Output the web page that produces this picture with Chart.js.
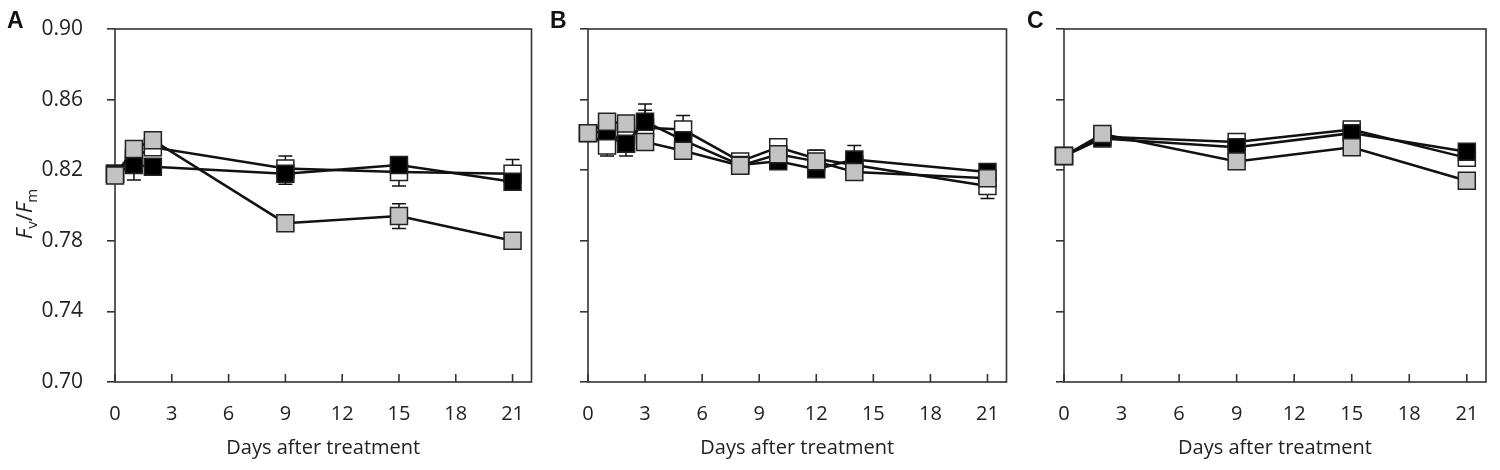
<!DOCTYPE html>
<html>
<head>
<meta charset="utf-8">
<script src="https://cdn.jsdelivr.net/npm/chart.js@4.4.1/dist/chart.umd.min.js"></script>
<style>
  body { margin: 0; background: #fff; width: 1500px; height: 470px; position: relative; overflow: hidden; }
  canvas { position: absolute; top: 0; }
</style>
</head>
<body>
<canvas id="chartA" width="545" height="470" style="left:0px"></canvas>
<canvas id="chartB" width="475" height="470" style="left:545px"></canvas>
<canvas id="chartC" width="480" height="470" style="left:1020px"></canvas>
<script>
// ---- data (Fv/Fm vs days after treatment) ----
const yTicks = [0.70, 0.74, 0.78, 0.82, 0.86, 0.90];
const xTicks = [0, 3, 6, 9, 12, 15, 18, 21];

// panel A
const daysA = [0, 1, 2, 9, 15, 21];
const openA = [0.818, 0.827, 0.833, 0.821, 0.819, 0.818];
const filledA = [0.818, 0.823, 0.822, 0.818, 0.823, 0.8135];
const grayA = [0.817, 0.832, 0.837, 0.790, 0.794, 0.780];
const openErrA = [0.003, 0.003, 0.003, 0.007, 0.008, 0.008];
const filledErrA = [0.003, 0.0085, 0.003, 0.006, 0.003, 0.003];
const grayErrA = [0.003, 0.003, 0.003, 0.003, 0.007, 0.003];

// panel B
const daysB = [0, 1, 2, 3, 5, 8, 10, 12, 14, 21];
const openB = [0.841, 0.834, 0.840, 0.844, 0.843, 0.825, 0.833, 0.8265, 0.823, 0.811];
const filledB = [0.841, 0.842, 0.835, 0.8475, 0.837, 0.823, 0.825, 0.8205, 0.826, 0.819];
const grayB = [0.841, 0.8475, 0.8465, 0.836, 0.831, 0.8225, 0.829, 0.825, 0.819, 0.8155];
const openErrB = [0.003, 0.006, 0.003, 0.010, 0.008, 0.003, 0.003, 0.005, 0.003, 0.007];
const filledErrB = [0.003, 0.003, 0.007, 0.010, 0.003, 0.003, 0.003, 0.003, 0.008, 0.003];
const grayErrB = [0.003, 0.003, 0.003, 0.003, 0.003, 0.003, 0.003, 0.003, 0.003, 0.003];

// panel C
const daysC = [0, 2, 9, 15, 21];
const openC = [0.828, 0.839, 0.836, 0.843, 0.827];
const filledC = [0.828, 0.838, 0.833, 0.841, 0.8305];
const grayC = [0.828, 0.8405, 0.825, 0.833, 0.814];
const openErrC = [0.003, 0.003, 0.003, 0.003, 0.003];
const filledErrC = [0.003, 0.003, 0.003, 0.003, 0.003];
const grayErrC = [0.003, 0.003, 0.003, 0.003, 0.003];

const FONT = '"Open Sans", sans-serif';
const INK = '#222';

// frame, inward x ticks and error bars, all under the markers
const frameAndErrors = {
  id: 'frameAndErrors',
  beforeDatasetsDraw(chart) {
    const { ctx, chartArea: a, scales: { x, y } } = chart;
    ctx.save();
    ctx.strokeStyle = '#333';
    ctx.lineWidth = 1.6;
    ctx.strokeRect(a.left, a.top, a.right - a.left, a.bottom - a.top);
    x.ticks.forEach(t => {
      const px = x.getPixelForValue(t.value);
      ctx.beginPath();
      ctx.moveTo(px, a.bottom);
      ctx.lineTo(px, a.bottom - 8);
      ctx.stroke();
    });
    ctx.strokeStyle = '#111';
    ctx.lineWidth = 1.5;
    chart.data.datasets.forEach(ds => {
      ds.data.forEach((p, i) => {
        const e = ds.errors[i];
        const px = x.getPixelForValue(p.x);
        const top = y.getPixelForValue(p.y + e);
        const bot = y.getPixelForValue(p.y - e);
        ctx.beginPath();
        ctx.moveTo(px, top); ctx.lineTo(px, bot);
        ctx.moveTo(px - 7, top); ctx.lineTo(px + 7, top);
        ctx.moveTo(px - 7, bot); ctx.lineTo(px + 7, bot);
        ctx.stroke();
      });
    });
    ctx.restore();
  }
};

// panel letter and (panel A only) the y title with subscripts
const labelsPlugin = {
  id: 'labels',
  afterDraw(chart, args, opts) {
    const ctx = chart.ctx;
    ctx.save();
    ctx.fillStyle = '#111';
    ctx.font = 'bold 23px "Liberation Sans", Arial, sans-serif';
    ctx.textBaseline = 'alphabetic';
    ctx.fillText(opts.letter, opts.letterX, 28);
    if (opts.yTitle) {
      const parts = [
        ['F', 'italic 22px ' + FONT, 0],
        ['v', '15px ' + FONT, 5],
        ['/', '22px ' + FONT, 0],
        ['F', 'italic 22px ' + FONT, 0],
        ['m', '15px ' + FONT, 5]
      ];
      let w = 0;
      parts.forEach(p => { ctx.font = p[1]; w += ctx.measureText(p[0]).width; });
      ctx.translate(32, 214);
      ctx.rotate(-Math.PI / 2);
      ctx.fillStyle = INK;
      let cx = -w / 2;
      parts.forEach(p => {
        ctx.font = p[1];
        ctx.fillText(p[0], cx, p[2]);
        cx += ctx.measureText(p[0]).width;
      });
    }
    ctx.restore();
  }
};

function series(days, vals, errs, fill, order) {
  return {
    data: days.map((d, i) => ({ x: d, y: vals[i] })),
    errors: errs,
    order: order,
    borderColor: '#111',
    borderWidth: 2.5,
    tension: 0,
    pointStyle: 'rect',
    pointRadius: 12,
    pointHoverRadius: 12,
    pointBackgroundColor: fill,
    pointBorderColor: '#222',
    pointBorderWidth: 1.5,
    clip: false
  };
}

function makePanel(id, letter, letterX, days, open, filled, gray, openErr, filledErr, grayErr, yWidth, padRight, showY) {
  return new Chart(document.getElementById(id), {
    type: 'line',
    data: {
      datasets: [
        series(days, open, openErr, '#ffffff', 2),
        series(days, filled, filledErr, '#000000', 1),
        series(days, gray, grayErr, '#c3c3c3', 0)
      ]
    },
    options: {
      responsive: false,
      animation: false,
      layout: { padding: { top: 29, right: padRight, left: 0, bottom: 0 } },
      scales: {
        x: {
          type: 'linear',
          min: 0,
          max: 22,
          afterFit(s) { s.height = 88; s.paddingLeft = 0; s.paddingRight = 0; },
          afterBuildTicks(s) { s.ticks = xTicks.map(v => ({ value: v })); },
          grid: { display: false },
          border: { display: false },
          ticks: { color: INK, font: { family: FONT, size: 20 }, padding: 12, maxRotation: 0 },
          title: {
            display: true,
            text: 'Days after treatment',
            color: INK,
            font: { family: FONT, size: 20 },
            padding: { top: 0, bottom: 10 }
          }
        },
        y: {
          min: 0.70,
          max: 0.90,
          afterFit(s) { s.width = yWidth; s.paddingTop = 0; s.paddingBottom = 0; },
          afterBuildTicks(s) { s.ticks = yTicks.map(v => ({ value: v })); },
          grid: { drawOnChartArea: false, drawTicks: true, tickLength: 8, color: '#333', lineWidth: 1.6 },
          border: { display: false },
          ticks: {
            display: showY,
            color: INK,
            font: { family: FONT, size: 21 },
            padding: 24,
            callback: v => v.toFixed(2)
          }
        }
      },
      plugins: {
        legend: { display: false },
        tooltip: { enabled: false },
        labels: { letter: letter, letterX: letterX, yTitle: showY }
      }
    },
    plugins: [frameAndErrors, labelsPlugin]
  });
}

makePanel('chartA', 'A', 7, daysA, openA, filledA, grayA, openErrA, filledErrA, grayErrA, 115, 10, true);
makePanel('chartB', 'B', 5, daysB, openB, filledB, grayB, openErrB, filledErrB, grayErrB, 43, 11, false);
makePanel('chartC', 'C', 7, daysC, openC, filledC, grayC, openErrC, filledErrC, grayErrC, 44, 14, false);
</script>
</body>
</html>
